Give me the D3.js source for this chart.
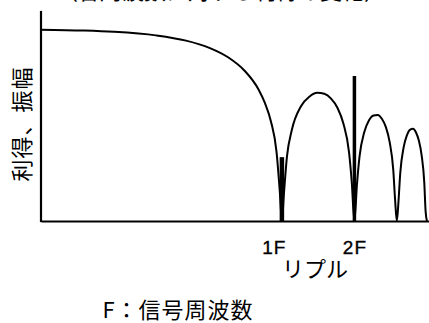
<!DOCTYPE html>
<html>
<head>
<meta charset="utf-8">
<script src="https://cdn.jsdelivr.net/npm/d3@7"></script>
<style>
  body { margin: 0; background: #fff; }
  svg text { fill: #000; }
  .cjk { font-family: "Noto Sans CJK JP", "Noto Sans", sans-serif; }
</style>
</head>
<body>
<div id="chart"></div>
<script>
// frequency as multiple of signal frequency F (log axis) and gain in dB
const freqRatio = [0.1, 0.15, 0.2, 0.3, 0.4, 0.5, 0.6, 0.7, 0.8, 0.85, 0.9, 0.95, 0.98, 1.0,
  1.02, 1.05, 1.1, 1.2, 1.3, 1.4, 1.5, 1.6, 1.7, 1.8, 1.9, 1.95, 2.0,
  2.05, 2.1, 2.2, 2.3, 2.4, 2.5, 2.6, 2.7, 2.8, 2.9, 2.95, 3.0,
  3.05, 3.1, 3.2, 3.3, 3.4, 3.5, 3.6, 3.7, 3.8, 3.9, 3.95, 4.0]
const gainDb = [-0.14, -0.32, -0.58, -1.33, -2.42, -3.92, -5.94, -8.69, -12.6, -15.4, -19.2, -25.6, -33.8, -40,
  -34.2, -26.5, -21.0, -16.1, -14.1, -13.3, -13.5, -14.5, -16.4, -19.7, -25.7, -31.9, -40,
  -32.3, -26.6, -21.4, -19.0, -18.0, -17.9, -18.7, -20.4, -23.5, -29.4, -35.5, -40,
  -35.7, -30.0, -24.7, -22.2, -21.0, -20.8, -21.5, -23.2, -26.2, -32.0, -38.0, -40]

// ripple spikes
const rippleFreq = [1, 2]
const rippleDb = [-26.7, -9.8]
const rippleWidth = [4.5, 3.5]

const tickValues = [1, 2]
const tickLabels = ["1F", "2F"]

const width = 429, height = 323

const svg = d3.select("#chart").append("svg")
  .attr("width", width)
  .attr("height", height)

const x = d3.scaleLog().domain([0.1, 4.08]).range([41, 429])
const y = d3.scaleLinear().domain([-40, 0]).range([221, 29])

// title, cropped at the top edge as in the original
svg.append("text")
  .attr("class", "cjk")
  .attr("x", 221)
  .attr("y", -1)
  .attr("text-anchor", "middle")
  .style("font-size", "22px")
  .text("（各周波数に対する利得の変化）")

// y axis (no ticks), runs above 0 dB
svg.append("line")
  .attr("x1", x(0.1)).attr("x2", x(0.1))
  .attr("y1", y(-40)).attr("y2", 12)
  .attr("stroke", "#000")
  .attr("stroke-width", 2.2)
  .attr("stroke-linecap", "square")

const xAxis = d3.axisBottom(x)
  .tickValues(tickValues)
  .tickFormat((d, i) => tickLabels[i])
  .tickSize(0)
  .tickSizeOuter(0)
  .tickPadding(20)

const gx = svg.append("g")
  .attr("transform", `translate(0,${y(-40)})`)
  .call(xAxis)
gx.attr("font-size", null).attr("font-family", null)
gx.select(".domain").attr("stroke", "#000").attr("stroke-width", 2.2)
gx.selectAll(".tick text")
  .attr("fill", "#000")
  .attr("stroke", "#000")
  .attr("stroke-width", 0.35)
  .attr("dx", (d, i) => i === 0 ? -8 : 0)
  .attr("style", "font-family: 'Liberation Sans', Arial, sans-serif; font-size: 19px; letter-spacing: 1px;")

const line = d3.line()
  .x((d, i) => x(freqRatio[i]))
  .y(d => y(d))
  .curve(d3.curveMonotoneX)

svg.append("path")
  .datum(gainDb)
  .attr("fill", "none")
  .attr("stroke", "#000")
  .attr("stroke-width", 2)
  .attr("d", line)

svg.selectAll(".ripple")
  .data(rippleFreq)
  .join("line")
  .attr("class", "ripple")
  .attr("x1", d => x(d)).attr("x2", d => x(d))
  .attr("y1", y(-40) + 1)
  .attr("y2", (d, i) => y(rippleDb[i]))
  .attr("stroke", "#000")
  .attr("stroke-width", (d, i) => rippleWidth[i])

// labels
svg.append("text")
  .attr("class", "cjk")
  .attr("transform", "translate(30,124) rotate(-90)")
  .attr("text-anchor", "middle")
  .style("font-size", "22px")
  .style("letter-spacing", "1px")
  .text("利得、振幅")

svg.append("text")
  .attr("class", "cjk")
  .attr("x", 315)
  .attr("y", 277)
  .attr("text-anchor", "middle")
  .style("font-size", "22px")
  .text("リプル")

svg.append("text")
  .attr("class", "cjk")
  .attr("x", 178)
  .attr("y", 318)
  .attr("text-anchor", "middle")
  .style("font-size", "22px")
  .style("letter-spacing", "1px")
  .text("F：信号周波数")
</script>
</body>
</html>
